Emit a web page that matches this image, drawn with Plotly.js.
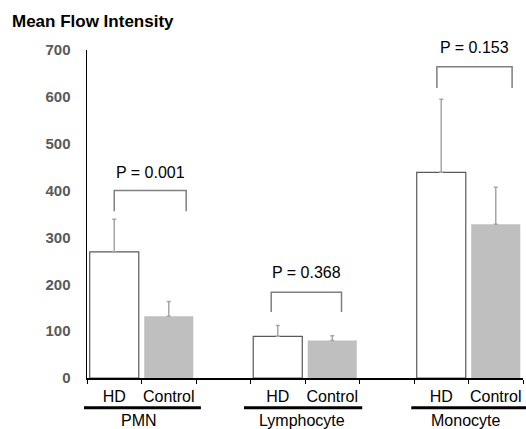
<!DOCTYPE html>
<html><head><meta charset="utf-8">
<script src="https://cdn.plot.ly/plotly-3.0.1.min.js"></script>
<style>html,body{margin:0;padding:0;background:#fff}</style>
</head><body><div id="chart" style="width:526px;height:429px"></div>
<script>
// Data
const groups = ["PMN", "Lymphocyte", "Monocyte"];
const seriesNames = ["HD", "Control"];
const hdX = [0, 3, 6];
const ctrlX = [1, 4, 7];
const hdValues = [269, 89, 439];
const hdErrors = [70, 23, 156];
const ctrlValues = [132, 80, 328];
const ctrlErrors = [31, 10, 79];
const pLabels = ["P = 0.001", "P = 0.368", "P = 0.153"];
const bracketTop = [400, 183, 664];
const bracketBottom = [356, 141, 619];
const bracketLeft = [0, 2.88, 5.92];
const bracketRight = [1.32, 4.17, 7.3];
const pTextY = [439, 225, 706];
const yTicks = [0, 100, 200, 300, 400, 500, 600, 700];

const font = "Liberation Sans, Arial, sans-serif";
const xMin = -0.5, xMax = 7.5, yMax = 700;
const toPaper = v => (v - xMin) / (xMax - xMin);

const traces = [
  {type: "bar", x: hdX, y: hdValues, width: 0.9, name: seriesNames[0],
   marker: {color: "#ffffff", line: {color: "#595959", width: 1.2}},
   error_y: {type: "data", symmetric: false, array: hdErrors, arrayminus: [0,0,0], color: "#a6a6a6", thickness: 1.5, width: 2}},
  {type: "bar", x: ctrlX, y: ctrlValues, width: 0.9, name: seriesNames[1],
   marker: {color: "#bfbfbf", line: {color: "#bfbfbf", width: 0}},
   error_y: {type: "data", symmetric: false, array: ctrlErrors, arrayminus: [0,0,0], color: "#a6a6a6", thickness: 1.5, width: 2}}
];

const shapes = [];
const annotations = [];
const ulLeft = [0.555, 0.62, 0.55];
const ulRight = [0.59, 0.55, 0.7];
for (let i = 0; i < groups.length; i++) {
  shapes.push({type: "path", xref: "x", yref: "y",
    path: `M${bracketLeft[i]},${bracketBottom[i]} L${bracketLeft[i]},${bracketTop[i]} L${bracketRight[i]},${bracketTop[i]} L${bracketRight[i]},${bracketBottom[i]}`,
    line: {color: "#7f7f7f", width: 1.5}});
  annotations.push({x: (bracketLeft[i] + bracketRight[i]) / 2, y: pTextY[i] / yMax, xref: "x", yref: "paper",
    text: pLabels[i], showarrow: false, font: {family: font, size: 16, color: "#000"}, xanchor: "center", yanchor: "middle"});
  // group underline
  const l = hdX[i] - ulLeft[i], r = ctrlX[i] + ulRight[i];
  shapes.push({type: "line", xref: "paper", yref: "paper",
    x0: toPaper(l), x1: Math.min(toPaper(r), 1.01), y0: -0.091, y1: -0.091,
    line: {color: "#000", width: 3}});
  annotations.push({x: (hdX[i] + ctrlX[i]) / 2 - 0.05, y: -0.098, xref: "x", yref: "paper",
    text: groups[i], showarrow: false, font: {family: font, size: 16, color: "#000"}, xanchor: "center", yanchor: "top"});
}

const layout = {
  width: 526, height: 429,
  margin: {l: 87, r: 3, t: 50, b: 51},
  paper_bgcolor: "#ffffff", plot_bgcolor: "#ffffff",
  showlegend: false, barmode: "overlay",
  title: {text: "<b>Mean Flow Intensity</b>", x: 12/526, xanchor: "left", xref: "container", y: 1 - 21/429, yanchor: "middle", yref: "container",
    font: {family: font, size: 17, color: "#000"}},
  xaxis: {range: [xMin, xMax], showgrid: false, zeroline: false, showline: true, linecolor: "#000", linewidth: 1.5,
    tickvals: hdX.concat(ctrlX), ticktext: hdX.map(() => seriesNames[0]).concat(ctrlX.map(() => seriesNames[1])),
    ticks: "", tickfont: {family: font, size: 16, color: "#000"}, ticklabelstandoff: 3,
    minor: {tickvals: [-0.5, 0.5, 1.5, 2.5, 3.5, 4.5, 5.5, 6.5, 7.5], ticks: "outside", ticklen: 4, tickcolor: "#000", tickwidth: 1, showgrid: false},
    fixedrange: true},
  yaxis: {range: [0, yMax], tickvals: yTicks, showgrid: false, zeroline: false, showline: true, linecolor: "#000", linewidth: 1.5,
    ticks: "", tickfont: {family: font, size: 15, color: "#595959", weight: "bold"}, ticklabelstandoff: 12, fixedrange: true},
  shapes: shapes, annotations: annotations
};

Plotly.newPlot("chart", traces, layout, {displayModeBar: false, staticPlot: true});
</script></body></html>
